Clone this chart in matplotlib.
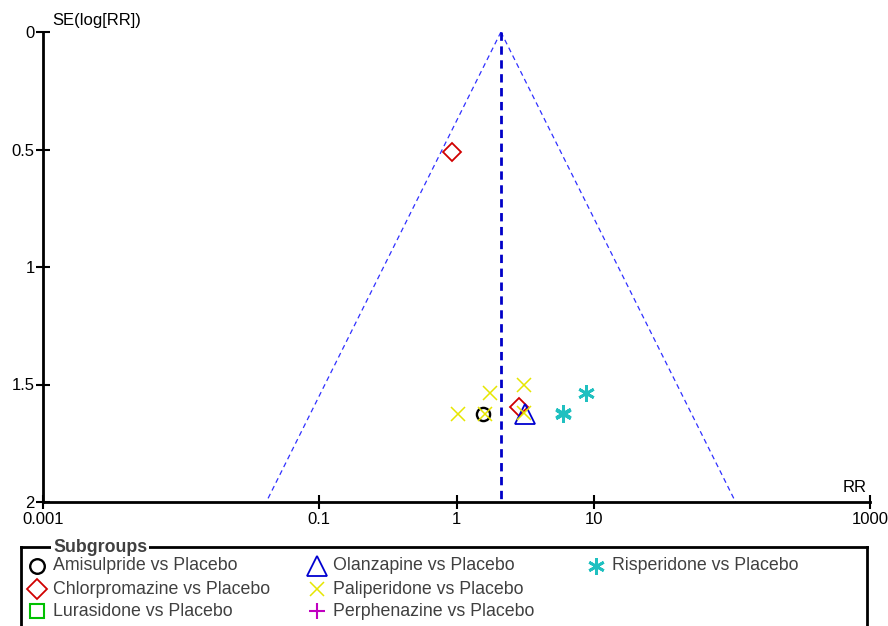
import numpy as np
import matplotlib
matplotlib.use("Agg")
import matplotlib.pyplot as plt

plt.rcParams["font.family"] = ["Liberation Sans", "DejaVu Sans"]

# pooled estimate (centre of the funnel)
pooled_rr = 2.1
funnel_se_max = 2.0

# study points per subgroup: RR and SE(log RR)
amisulpride_rr = [1.55]
amisulpride_se = [1.627]
chlorpromazine_rr = [0.925, 2.85]
chlorpromazine_se = [0.51, 1.597]
olanzapine_rr = [3.13]
olanzapine_se = [1.627]
paliperidone_rr = [1.03, 1.62, 1.74, 3.08, 3.08]
paliperidone_se = [1.627, 1.627, 1.537, 1.502, 1.62]
risperidone_rr = [5.94, 5.94, 8.77]
risperidone_se = [1.62, 1.627, 1.535]

x_ticks = [0.001, 0.1, 1, 10, 1000]
x_tick_labels = ["0.001", "0.1", "1", "10", "1000"]
y_ticks = [0, 0.5, 1, 1.5, 2]
y_tick_labels = ["0", "0.5", "1", "1.5", "2"]

legend_names = [
    "Amisulpride vs Placebo", "Chlorpromazine vs Placebo", "Lurasidone vs Placebo",
    "Olanzapine vs Placebo", "Paliperidone vs Placebo", "Perphenazine vs Placebo",
    "Risperidone vs Placebo",
]

W, H = 888, 626
fig = plt.figure(figsize=(W / 100, H / 100), dpi=100)
ax = fig.add_axes([43 / W, 1 - 502 / H, (870 - 43) / W, (502 - 32) / H])
ax.set_xscale("log")
ax.set_xlim(0.001, 1000)
ax.set_ylim(2, 0)

# funnel
se_line = np.array([0, funnel_se_max])
left = np.exp(np.log(pooled_rr) - 1.96 * se_line)
right = np.exp(np.log(pooled_rr) + 1.96 * se_line)
ax.plot(left, se_line, color="#3030ff", lw=0.9, ls=(0, (4, 3)))
ax.plot(right, se_line, color="#3030ff", lw=0.9, ls=(0, (4, 3)))
ax.plot([pooled_rr, pooled_rr], [0, funnel_se_max], color="#0000c8", lw=2, ls=(0, (3, 2)))

mk = dict(ls="none", clip_on=False, zorder=3)
ax.plot(amisulpride_rr, amisulpride_se, marker="o", ms=9.5, mew=1.7, mfc="none", mec="black", **mk)
ax.plot(chlorpromazine_rr, chlorpromazine_se, marker="D", ms=9.5, mew=1.3, mfc="none", mec="#d00000", **mk)
ax.plot(olanzapine_rr, olanzapine_se, marker="^", ms=15, mew=1.3, mfc="none", mec="#0000d0", **mk)
ax.plot(risperidone_rr, risperidone_se, marker=(6, 2, 0), ms=12, mew=2, color="#20c0c0", **mk)
ax.plot(paliperidone_rr, paliperidone_se, marker="x", ms=9.5, mew=1.1, color="#e6e600", **mk)

for s in ["top", "right"]:
    ax.spines[s].set_visible(False)
for s in ["left", "bottom"]:
    ax.spines[s].set_linewidth(2)
ax.set_xticks(x_ticks)
ax.set_xticklabels(x_tick_labels)
ax.minorticks_off()
ax.set_yticks(y_ticks)
ax.set_yticklabels(y_tick_labels)
ax.tick_params(direction="inout", length=10, width=1.5, labelsize=12, pad=1)
ax.tick_params(axis="x", pad=2)

fig.text(52 / W, 1 - 21 / H, "SE(log[RR])", fontsize=12, va="center", ha="left")
fig.text(867 / W, 1 - 488 / H, "RR", fontsize=12, va="center", ha="right")

# legend box
lax = fig.add_axes([21 / W, 0, (867 - 21) / W, (626 - 547) / H])
lax.set_xlim(21, 867)
lax.set_ylim(626, 547)
lax.set_xticks([])
lax.set_yticks([])
lax.spines["bottom"].set_visible(False)
for s in ["top", "left", "right"]:
    lax.spines[s].set_linewidth(2)
lax.patch.set_alpha(0)

lax.text(53, 547, "Subgroups", fontsize=12.8, fontweight="bold", color="#404040",
         va="center", ha="left", bbox=dict(fc="white", ec="none", pad=1.5))

marker_styles = [
    dict(marker="o", ms=10.5, mew=1.7, mfc="none", mec="black"),
    dict(marker="D", ms=10, mew=1.3, mfc="none", mec="#d00000"),
    dict(marker="s", ms=10, mew=1.5, mfc="none", mec="#00c000"),
    dict(marker="^", ms=15, mew=1.3, mfc="none", mec="#0000d0"),
    dict(marker="x", ms=10, mew=1.1, color="#e6e600"),
    dict(marker="+", ms=12, mew=1.5, color="#c000c0"),
    dict(marker=(6, 2, 0), ms=12, mew=2, color="#20c0c0"),
]
col_marker_x = [37, 317, 596]
col_text_x = [53, 333, 612]
row_y = [566, 589, 611]
for i, (name, st) in enumerate(zip(legend_names, marker_styles)):
    c, r = divmod(i, 3)
    lax.plot([col_marker_x[c]], [row_y[r]], ls="none", clip_on=False, **st)
    lax.text(col_text_x[c], row_y[r], name, fontsize=12.8, color="#404040", va="center", ha="left")

fig.savefig("out.png", dpi=100)
